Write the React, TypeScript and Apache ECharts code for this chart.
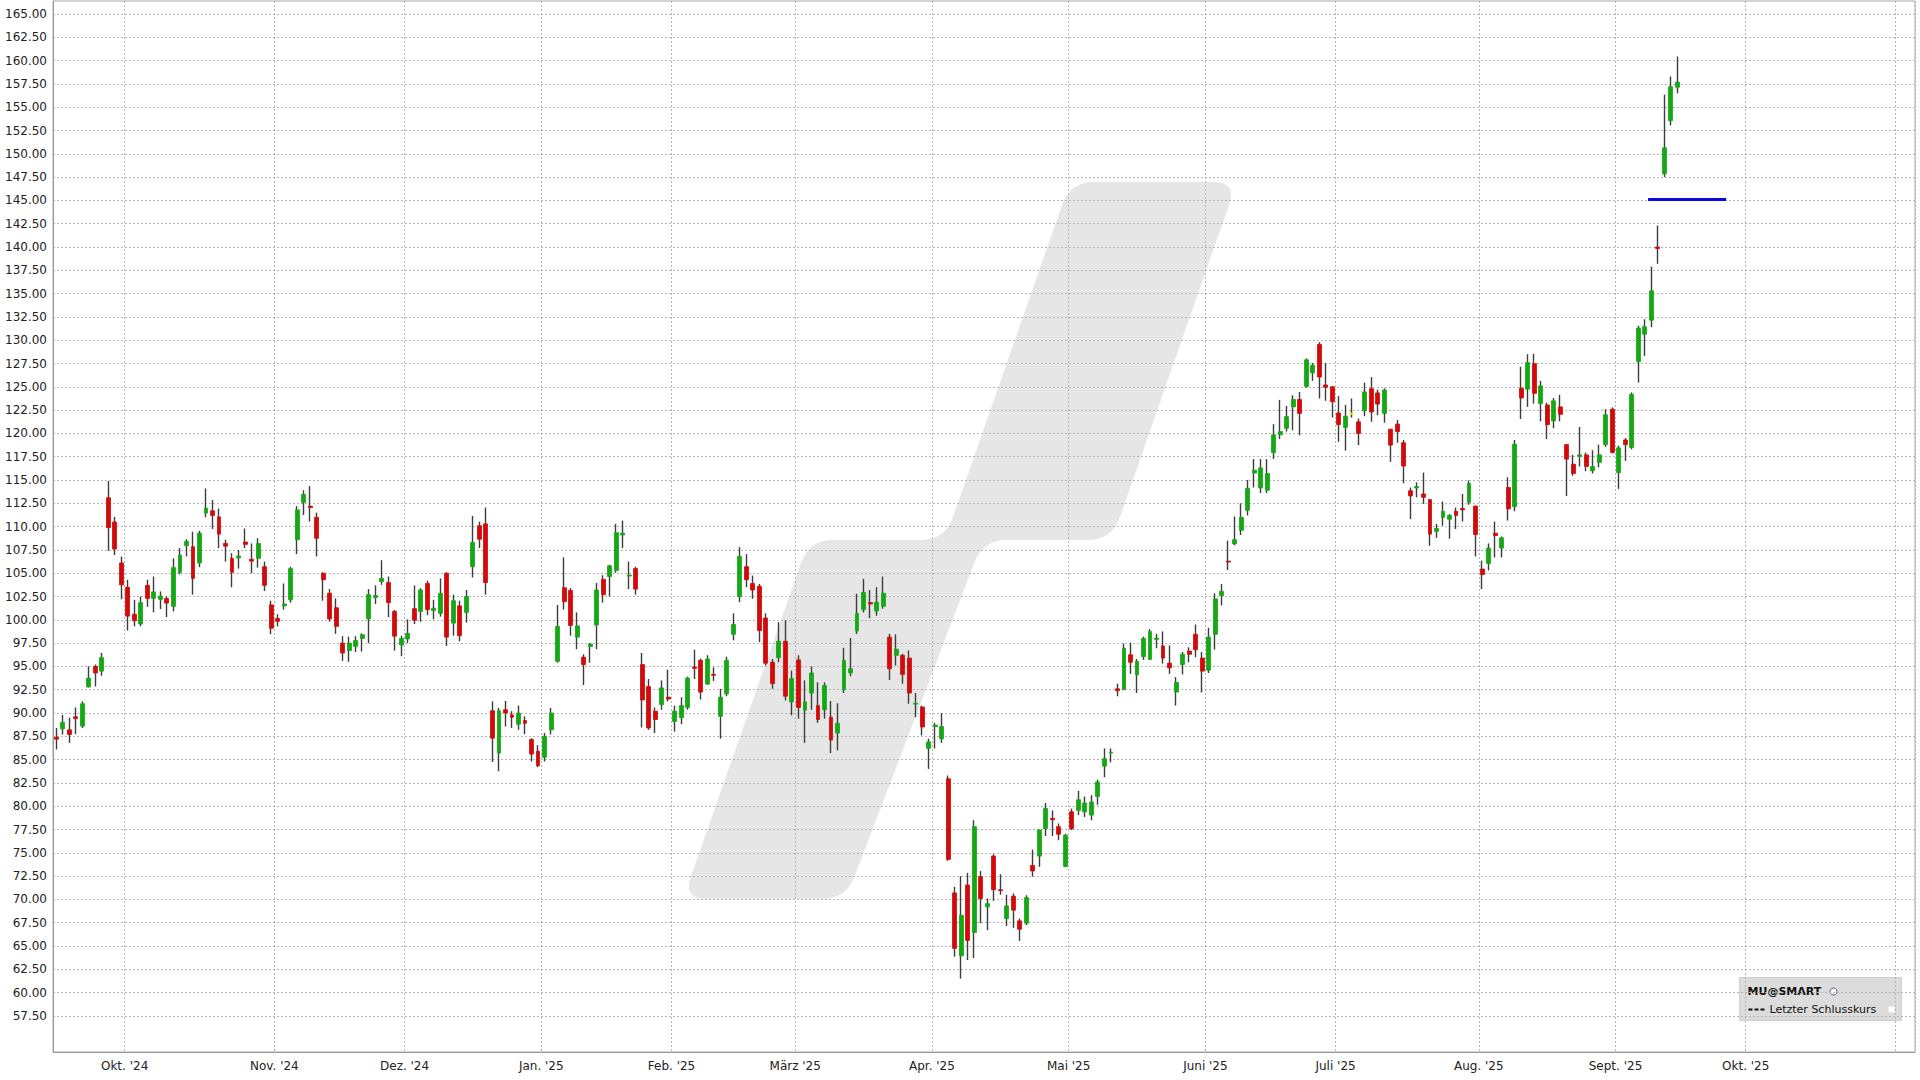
import React, { useEffect, useRef } from "react";
import * as echarts from "echarts";

// Daily candles, each [open, close, low, high]
const sep24 = [
  [87.4, 87.2, 86.1, 88.4], [88.3, 89.0, 87.7, 89.8], [88.2, 87.7, 86.8, 89.5], [89.6, 89.4, 87.75, 90.6],
  [88.6, 91.0, 88.4, 91.25], [92.8, 93.75, 92.75, 95.0], [95.0, 94.3, 92.85, 95.2], [94.5, 95.95, 94.0, 96.45],
  [113.1, 109.9, 107.4, 114.9], [110.5, 107.6, 106.95, 111.05], [106.1, 103.75, 102.2, 106.8],
];
const oct24 = [
  [103.5, 100.4, 98.85, 104.3], [100.6, 99.9, 99.3, 102.15], [99.55, 101.85, 99.3, 102.5], [103.7, 102.3, 101.4, 104.3],
  [102.3, 103.0, 100.8, 104.65], [102.2, 102.55, 101.15, 103.05], [102.3, 101.8, 100.3, 102.5], [101.45, 105.6, 100.9, 106.6],
  [105.1, 106.95, 104.9, 107.7], [107.95, 108.4, 106.8, 108.65], [107.85, 104.45, 102.7, 109.45], [106.1, 109.3, 105.65, 109.55],
  [111.45, 112.0, 111.0, 114.1], [111.7, 111.2, 109.75, 112.85], [111.05, 109.2, 107.7, 111.95], [108.2, 107.9, 106.25, 108.6],
  [106.6, 105.1, 103.5, 107.15], [106.65, 106.85, 105.5, 107.5], [108.35, 108.1, 107.7, 109.8], [106.5, 106.3, 105.0, 108.2],
  [106.6, 108.2, 105.6, 108.75], [105.7, 103.7, 103.1, 106.25], [101.6, 99.1, 98.45, 102.05],
];
const nov24 = [
  [100.15, 99.85, 99.3, 100.6], [101.5, 101.7, 101.1, 103.9], [102.15, 105.5, 101.85, 105.7], [108.6, 111.8, 107.05, 112.2],
  [112.6, 113.45, 111.25, 113.9], [112.2, 112.05, 110.55, 114.35], [111.0, 108.75, 106.8, 111.5], [105.0, 104.3, 102.05, 105.1],
  [102.85, 100.1, 99.8, 103.3], [101.3, 99.3, 98.5, 102.3], [97.5, 96.45, 95.6, 98.25], [96.7, 97.5, 95.5, 98.2],
  [97.15, 97.8, 96.55, 98.25], [98.0, 98.4, 96.6, 98.55], [100.1, 102.7, 97.5, 103.3], [102.4, 102.6, 101.7, 103.7],
  [104.1, 104.45, 103.75, 106.4], [104.0, 101.85, 100.3, 104.65], [100.9, 98.25, 96.7, 101.05], [97.3, 98.0, 96.1, 98.3],
];
const dec24 = [
  [97.95, 98.55, 97.5, 100.05], [101.2, 99.95, 99.55, 103.7], [100.9, 103.2, 99.8, 103.4], [103.9, 101.1, 100.5, 104.2],
  [101.0, 101.25, 100.05, 102.15], [100.7, 102.85, 100.35, 104.45], [105.0, 98.15, 97.2, 105.1], [99.65, 102.05, 98.3, 102.7],
  [101.5, 98.3, 97.7, 102.05], [100.8, 102.5, 99.7, 103.2], [105.7, 108.3, 104.55, 111.15], [110.1, 108.65, 107.7, 110.55],
  [110.3, 104.0, 102.7, 112.05], [90.25, 87.3, 84.75, 91.25], [85.7, 90.25, 83.75, 90.55], [90.35, 90.0, 88.55, 91.3],
  [89.8, 89.55, 88.4, 90.2], [88.8, 90.0, 88.2, 90.8], [89.2, 88.9, 87.75, 89.65], [87.15, 85.6, 84.8, 87.3],
  [85.9, 84.35, 84.2, 86.55],
];
const jan25 = [
  [85.25, 87.5, 84.8, 87.85], [88.2, 90.0, 87.7, 90.55], [95.55, 99.3, 95.4, 101.6], [103.45, 101.95, 101.1, 106.7],
  [103.15, 99.4, 98.3, 103.4], [98.15, 99.35, 96.85, 100.8], [96.0, 95.2, 93.0, 96.3], [97.15, 97.4, 95.4, 97.5],
  [99.45, 103.2, 96.85, 103.95], [104.35, 102.7, 101.85, 104.8], [104.65, 105.8, 102.5, 105.9], [105.3, 109.35, 105.05, 110.3],
  [109.1, 109.3, 107.7, 110.65], [104.7, 104.8, 103.3, 106.25], [105.5, 103.3, 102.7, 105.7], [95.2, 91.4, 88.45, 96.45],
  [92.85, 88.4, 88.2, 93.65], [90.2, 89.3, 87.85, 90.6], [90.9, 92.7, 90.35, 93.5], [91.7, 91.5, 91.25, 94.65],
];
const feb25 = [
  [89.1, 90.2, 88.0, 90.8], [89.5, 90.8, 88.8, 91.7], [90.6, 93.75, 90.35, 93.9], [94.95, 94.8, 93.65, 96.8],
  [95.65, 92.25, 91.45, 95.85], [93.1, 95.8, 93.05, 96.2], [94.15, 94.05, 93.45, 94.9], [89.65, 91.7, 87.25, 92.6],
  [92.05, 95.65, 91.8, 96.05], [98.45, 99.5, 97.8, 100.7], [102.5, 106.8, 101.9, 107.8], [105.7, 104.3, 103.5, 107.05],
  [103.9, 103.2, 102.25, 104.75], [103.6, 98.85, 97.6, 103.85], [100.2, 95.35, 95.1, 100.7], [95.45, 93.15, 92.6, 95.8],
  [95.95, 97.7, 95.45, 99.75], [97.7, 91.8, 91.35, 99.95], [91.2, 93.7, 89.75, 94.55],
];
const mar25 = [
  [95.7, 90.6, 89.4, 96.2], [90.3, 91.2, 86.8, 93.5], [92.15, 94.3, 90.35, 95.0], [90.8, 89.3, 88.95, 93.3],
  [90.35, 92.95, 89.4, 93.3], [89.55, 87.1, 85.7, 91.3], [87.85, 88.9, 86.0, 91.05], [92.5, 95.65, 92.15, 97.0],
  [94.3, 94.75, 93.95, 98.05], [98.8, 100.7, 98.5, 102.8], [101.1, 102.95, 100.8, 104.4], [101.85, 101.7, 100.2, 103.2],
  [100.95, 101.9, 100.45, 103.5], [101.45, 102.85, 101.2, 104.65], [98.15, 94.75, 93.55, 98.5], [96.2, 96.85, 95.1, 98.45],
  [96.2, 94.15, 93.15, 96.35], [95.9, 92.15, 91.0, 96.7], [90.95, 91.05, 89.55, 92.15], [90.65, 88.5, 87.6, 90.8],
  [86.2, 86.9, 84.0, 87.25],
];
const apr25 = [
  [88.55, 88.7, 86.2, 88.95], [87.25, 88.55, 86.8, 90.0], [82.95, 74.3, 74.15, 83.3], [70.7, 64.75, 63.85, 71.35],
  [63.95, 68.3, 61.5, 72.5], [71.55, 65.6, 63.5, 72.85], [66.45, 77.8, 63.7, 78.5], [72.45, 70.1, 67.45, 73.05],
  [69.2, 69.55, 66.7, 70.1], [74.65, 71.05, 69.85, 74.85], [71.05, 70.95, 70.5, 72.7], [67.95, 69.3, 67.15, 70.5],
  [70.35, 68.85, 66.95, 70.65], [67.7, 66.8, 65.55, 67.95], [67.45, 70.2, 67.25, 70.45], [73.65, 73.05, 72.45, 75.35],
  [74.65, 77.45, 73.5, 77.5], [77.6, 79.75, 76.8, 80.35], [78.7, 78.55, 76.8, 79.55], [77.8, 77.0, 76.35, 78.15],
  [73.55, 76.9, 73.45, 77.05],
];
const may25 = [
  [79.4, 77.6, 77.45, 79.75], [79.55, 80.7, 79.05, 81.65], [79.4, 80.35, 78.85, 81.05], [79.05, 80.45, 78.5, 81.2],
  [81.05, 82.6, 80.15, 82.85], [84.3, 85.1, 83.1, 86.2], [85.7, 85.8, 84.7, 86.2], [92.6, 92.4, 91.8, 93.15],
  [92.55, 96.95, 92.45, 97.45], [96.25, 95.45, 94.2, 97.55], [94.1, 95.55, 92.15, 95.8], [96.05, 98.0, 95.7, 98.2],
  [95.75, 98.75, 95.7, 99.0], [97.9, 98.05, 96.95, 98.5], [97.2, 95.9, 95.3, 98.75], [95.35, 94.85, 94.2, 97.25],
  [92.25, 93.3, 90.8, 93.85], [95.2, 96.3, 94.15, 96.55], [96.65, 96.3, 95.45, 97.05], [98.45, 96.8, 96.0, 99.5],
  [95.9, 94.5, 92.2, 96.55],
];
const jun25 = [
  [94.6, 98.15, 94.3, 99.15], [98.45, 102.25, 96.8, 102.85], [102.6, 103.05, 101.55, 103.85], [106.3, 106.2, 105.35, 108.5],
  [108.15, 108.6, 108.0, 111.1], [109.6, 111.0, 109.1, 112.5], [111.75, 114.1, 111.2, 115.0], [115.75, 116.05, 114.2, 117.25],
  [114.15, 116.3, 113.6, 117.25], [113.9, 115.7, 113.6, 117.25], [117.95, 119.85, 117.25, 121.0], [119.85, 120.2, 119.4, 123.6],
  [120.55, 121.8, 120.2, 122.95], [122.85, 123.65, 120.35, 124.1], [123.65, 122.15, 119.8, 124.45], [125.05, 127.9, 124.9, 128.05],
  [126.5, 127.3, 125.65, 127.55], [129.55, 126.05, 123.75, 129.8], [125.2, 124.95, 123.5, 127.55], [125.0, 123.4, 121.7, 125.1],
];
const jul25 = [
  [122.2, 120.95, 119.1, 124.0], [120.65, 121.85, 118.15, 123.05], [122.1, 122.1, 121.7, 123.75], [121.25, 120.0, 118.75, 121.6],
  [122.45, 124.45, 121.85, 125.45], [124.8, 122.3, 121.25, 126.05], [124.35, 123.15, 121.95, 124.7], [122.15, 124.65, 121.15, 124.85],
  [120.45, 118.75, 116.95, 120.5], [121.0, 120.2, 119.0, 121.45], [119.0, 116.5, 114.65, 119.3], [113.85, 113.3, 110.8, 114.2],
  [114.15, 114.3, 113.15, 114.75], [113.5, 113.15, 112.45, 115.8], [112.9, 109.2, 107.95, 112.95], [109.5, 109.8, 108.8, 110.3],
  [111.0, 111.65, 110.1, 112.7], [110.8, 111.2, 108.7, 111.35], [111.65, 111.2, 109.75, 112.05], [111.95, 111.8, 110.55, 113.5],
  [112.6, 114.65, 112.35, 114.95], [112.2, 109.15, 106.8, 112.25],
];
const aug25 = [
  [105.45, 104.85, 103.3, 106.35], [106.05, 107.7, 105.3, 108.2], [109.3, 109.05, 106.7, 110.55], [107.7, 108.8, 106.7, 108.95],
  [114.2, 111.9, 110.65, 115.3], [112.15, 118.85, 111.65, 119.3], [124.85, 123.8, 121.55, 127.15], [124.75, 127.6, 122.85, 128.5],
  [127.5, 124.3, 123.2, 128.55], [123.2, 125.1, 121.3, 125.65], [123.05, 120.95, 119.4, 123.3], [121.35, 123.5, 120.55, 123.8],
  [122.85, 122.05, 121.3, 124.15], [118.8, 117.25, 113.3, 118.85], [116.7, 115.7, 115.45, 117.7], [117.55, 117.7, 116.45, 120.7],
  [117.7, 116.45, 115.95, 117.95], [116.0, 116.45, 115.7, 118.2], [116.9, 117.7, 116.35, 118.8], [118.8, 122.0, 118.55, 122.6],
  [122.6, 117.95, 117.85, 122.8],
];
const sep25 = [
  [115.8, 118.45, 114.05, 118.7], [119.3, 118.8, 117.05, 119.5], [118.5, 124.2, 118.3, 124.4], [127.7, 131.3, 125.45, 131.55],
  [130.65, 131.45, 128.3, 132.25], [132.15, 135.3, 131.4, 137.9], [140.0, 139.85, 138.2, 142.3], [147.85, 150.65, 147.5, 156.35],
  [153.55, 157.2, 153.05, 158.3], [157.15, 157.7, 156.5, 160.45],
];

// Trading-day calendar of the x axis
const firstDay = "2024-09-16";
const closedDays = [
  "2024-11-28", "2024-12-25", "2025-01-01", "2025-01-09", "2025-01-20", "2025-02-17",
  "2025-04-18", "2025-05-26", "2025-06-19", "2025-07-04", "2025-09-01", "2025-09-30",
];
const slotCount = 286;
const monthNames = ["Jan.", "Feb.", "März", "Apr.", "Mai", "Juni", "Juli", "Aug.", "Sept.", "Okt.", "Nov.", "Dez."];
const yTicks = [
  57.5, 60, 62.5, 65, 67.5, 70, 72.5, 75, 77.5, 80, 82.5, 85, 87.5, 90, 92.5, 95, 97.5, 100, 102.5, 105,
  107.5, 110, 112.5, 115, 117.5, 120, 122.5, 125, 127.5, 130, 132.5, 135, 137.5, 140, 142.5, 145, 147.5,
  150, 152.5, 155, 157.5, 160, 162.5, 165,
];
const yRange = [53.63, 166.4];
const lastClose = 145.1;
const lastCloseSlots = [245, 257];

const GREEN = "#14a814";
const RED = "#d20a0a";
const WICK = "#3c3c3c";
const GRIDC = "#b4b4b4";
const FONT = "DejaVu Sans";

function buildDates(): string[] {
  const out: string[] = [];
  const d = new Date(firstDay + "T00:00:00Z");
  while (out.length < slotCount) {
    const dow = d.getUTCDay();
    const s = d.toISOString().slice(0, 10);
    if (dow !== 0 && dow !== 6 && closedDays.indexOf(s) < 0) out.push(s);
    d.setUTCDate(d.getUTCDate() + 1);
  }
  return out;
}

function roundedPath(pts: number[][], r: number): string {
  const n = pts.length;
  let d = "";
  for (let k = 0; k < n; k++) {
    const p0 = pts[(k - 1 + n) % n], p1 = pts[k], p2 = pts[(k + 1) % n];
    const l1 = Math.hypot(p0[0] - p1[0], p0[1] - p1[1]);
    const l2 = Math.hypot(p2[0] - p1[0], p2[1] - p1[1]);
    const a = [p1[0] + ((p0[0] - p1[0]) / l1) * r, p1[1] + ((p0[1] - p1[1]) / l1) * r];
    const b = [p1[0] + ((p2[0] - p1[0]) / l2) * r, p1[1] + ((p2[1] - p1[1]) / l2) * r];
    d += (k === 0 ? "M" : "L") + a[0].toFixed(1) + " " + a[1].toFixed(1);
    d += " Q" + p1[0] + " " + p1[1] + " " + b[0].toFixed(1) + " " + b[1].toFixed(1) + " ";
  }
  return d + "Z";
}

export default function App() {
  const ref = useRef<HTMLDivElement>(null);
  useEffect(() => {
    document.body.style.margin = "0";
    if (!ref.current) return;
    const chart = echarts.init(ref.current, undefined, { renderer: "svg" });

    const dates = buildDates();
    const monthStart = new Set<number>();
    for (let i = 1; i < dates.length; i++) {
      if (dates[i].slice(5, 7) !== dates[i - 1].slice(5, 7)) monthStart.add(i);
    }
    const candles = [sep24, oct24, nov24, dec24, jan25, feb25, mar25, apr25, may25, jun25, jul25, aug25, sep25].flat();
    const wickData = candles.map((c) => [c[0], c[1], c[2], c[3]]);
    const bodyData = candles.map((c) => {
      const v = [c[0], c[1], Math.min(c[0], c[1]), Math.max(c[0], c[1])];
      if (c[0] === c[1]) return { value: v, itemStyle: { color: "#e8e800", borderColor: "#e8e800", borderWidth: 2 } };
      return v;
    });

    const wm = [[1070, 182], [1237, 182], [1112, 540], [983, 540], [846, 899], [683, 899], [809, 540], [945, 540]];
    const d = roundedPath(wm, 24);
    echarts.graphic.registerShape("logo", echarts.graphic.extendPath(d, {}) as any);

    const labelFmt = (v: string) => {
      const m = parseInt(v.slice(5, 7), 10) - 1;
      return monthNames[m] + " '" + v.slice(2, 4);
    };
    const gridLine = { color: GRIDC, type: [2, 2] as any, width: 1 };

    chart.setOption({
      animation: false,
      grid: { left: 53, right: 5, top: 1, bottom: 28, show: true, borderColor: "#a8a8a8", borderWidth: 1 },
      xAxis: [
        {
          type: "category",
          data: dates,
          boundaryGap: true,
          axisLine: { show: true, lineStyle: { color: "#999" } },
          axisTick: { show: false },
          axisLabel: {
            interval: (i: number) => monthStart.has(i) && i < 280,
            formatter: labelFmt,
            fontFamily: FONT,
            fontSize: 12,
            color: "#222",
            margin: 8,
            padding: [0, 6.5, 0, 0],
          },
          splitLine: { show: true, interval: (i: number) => monthStart.has(i), lineStyle: gridLine },
        },
        { type: "value", min: 0, max: slotCount, show: false },
      ],
      yAxis: {
        type: "value",
        min: yRange[0],
        max: yRange[1],
        axisLine: { show: true, lineStyle: { color: "#999" } },
        axisTick: { show: false, customValues: yTicks },
        axisLabel: {
          customValues: yTicks,
          formatter: (v: number) => v.toFixed(2),
          fontFamily: FONT,
          fontSize: 12,
          color: "#222",
          margin: 6,
        },
        splitLine: { show: true, lineStyle: gridLine },
      },
      graphic: [
        { type: "logo", x: 0, y: 0, scaleX: 1, scaleY: 1, z: -10, silent: true, style: { fill: "#e6e6e6" } },
        {
          type: "group",
          left: 1739,
          top: 977,
          children: [
            { type: "rect", shape: { x: 0, y: 0, width: 162, height: 43 }, style: { fill: "#dcdcdc", stroke: "#cfcfcf" } },
            { type: "text", x: 8, y: 14, style: { text: "MU@SMART", fill: "#111", font: "bold 11px DejaVu Sans", verticalAlign: "middle" } },
            { type: "circle", shape: { cx: 94, cy: 14, r: 3.5 }, style: { fill: "#fff", stroke: "#557", lineWidth: 1 } },
            { type: "line", shape: { x1: 9, y1: 32, x2: 26, y2: 32 }, style: { stroke: "#111", lineWidth: 2, lineDash: [4, 2] } },
            { type: "text", x: 30, y: 32, style: { text: "Letzter Schlusskurs", fill: "#111", font: "11px DejaVu Sans", verticalAlign: "middle" } },
            { type: "rect", shape: { x: 149, y: 29, width: 6, height: 6 }, style: { fill: "#fff" } },
          ],
        },
      ],
      series: [
        {
          type: "candlestick",
          name: "wick",
          data: wickData,
          barWidth: 0.4,
          itemStyle: { color: WICK, color0: WICK, borderColor: WICK, borderColor0: WICK, borderColorDoji: WICK, borderWidth: 1.4 },
          z: 2,
        },
        {
          type: "candlestick",
          name: "MU@SMART",
          data: bodyData,
          barWidth: 4.4,
          itemStyle: { color: GREEN, color0: RED, borderColor: GREEN, borderColor0: RED, borderColorDoji: "#e8e800", borderWidth: 0.8 },
          z: 3,
        },
        {
          type: "line",
          name: "Letzter Schlusskurs",
          xAxisIndex: 1,
          data: [[lastCloseSlots[0], lastClose], [lastCloseSlots[1], lastClose]],
          symbol: "none",
          lineStyle: { color: "#0a0ae0", width: 3 },
          z: 4,
        },
      ],
    });
    return () => chart.dispose();
  }, []);
  return <div ref={ref} style={{ width: 1920, height: 1080 }} />;
}
